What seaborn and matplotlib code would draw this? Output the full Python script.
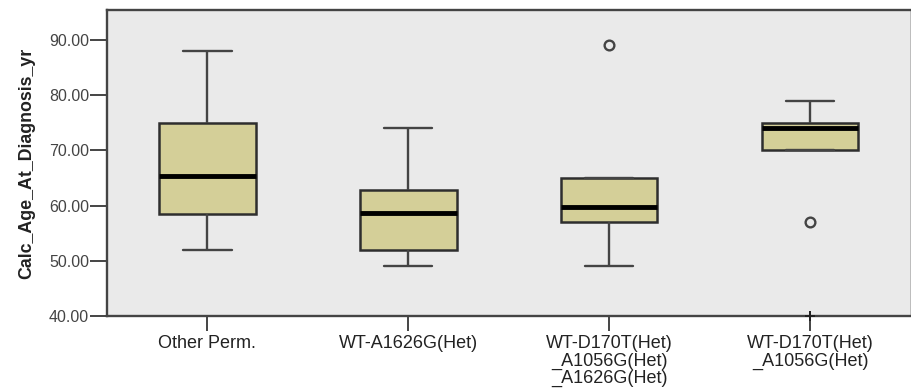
import numpy as np
import pandas as pd
import matplotlib
matplotlib.use("Agg")
import matplotlib.pyplot as plt
import matplotlib.ticker as mticker
import seaborn as sns

# Genotype groups shown along the x axis
groups = [
    "Other Perm.",
    "WT-A1626G(Het)",
    "WT-D170T(Het)\n_A1056G(Het)\n_A1626G(Het)",
    "WT-D170T(Het)\n_A1056G(Het)",
]

# Age at diagnosis (years) per group
age_other = [52, 57, 58.5, 62, 65.3, 70, 75, 80, 88]
age_a1626g = [49, 50, 52, 55, 58.6, 61, 62.8, 68, 74]
age_d170t_a1056g_a1626g = [49, 55, 57, 58, 59.7, 62, 65, 65, 89]
age_d170t_a1056g = [40, 57, 70, 72, 74, 74.5, 75, 77, 79]

y_ticks = [40, 50, 60, 70, 80, 90]

series = [age_other, age_a1626g, age_d170t_a1056g_a1626g, age_d170t_a1056g]
df = pd.DataFrame({
    "group": np.repeat(groups, [len(s) for s in series]),
    "age": np.concatenate(series),
})

sns.set_theme(style="white")
plt.rcParams["font.family"] = ["Liberation Sans", "DejaVu Sans"]

fig = plt.figure(figsize=(9.12, 3.9), dpi=100)
ax = fig.add_axes([0.1173, 0.1897, 0.8812, 0.7847])
ax.set_facecolor("#eaeaea")

edge = "#2e2e2e"
sns.boxplot(
    data=df, x="group", y="age", order=groups, ax=ax,
    color="#d4cf98", saturation=1, width=0.48, whis=1.5,
    showfliers=False, linewidth=1.7, linecolor=edge,
    boxprops=dict(edgecolor=edge, linewidth=1.8),
    whiskerprops=dict(color="#444444", linewidth=1.7),
    capprops=dict(color="#444444", linewidth=1.7),
    medianprops=dict(color="black", linewidth=3.5),
)

# Outliers (circles) and extreme values (asterisks), SPSS style
for i, vals in enumerate(series):
    v = np.asarray(vals, dtype=float)
    q1, q3 = np.percentile(v, [25, 75])
    iqr = q3 - q1
    far = (v < q1 - 3 * iqr) | (v > q3 + 3 * iqr)
    out = ((v < q1 - 1.5 * iqr) | (v > q3 + 1.5 * iqr)) & ~far
    ax.plot(np.full(out.sum(), i), v[out], linestyle="none", marker="o",
            markersize=7, markerfacecolor="none", markeredgecolor="#444444",
            markeredgewidth=1.7, zorder=5)
    ax.plot(np.full(far.sum(), i), v[far], linestyle="none", marker=(4, 2, 0),
            markersize=7, color="#222222", markeredgewidth=1.4,
            zorder=6, clip_on=False)

ax.set_xlim(-0.5, len(groups) - 0.5)
ax.set_ylim(40, 95.4)
ax.set_yticks(y_ticks)
ax.yaxis.set_major_formatter(mticker.FormatStrFormatter("%.2f"))

ax.set_xlabel("")
ax.set_ylabel("Calc_Age_At_Diagnosis_yr", fontsize=12.8, fontweight="bold",
              color="#222222", labelpad=10)

for side in ["left", "bottom", "top"]:
    ax.spines[side].set_visible(True)
    ax.spines[side].set_color("#444444")
    ax.spines[side].set_linewidth(1.7)
ax.spines["right"].set_visible(True)
ax.spines["right"].set_color("#b5b5b5")
ax.spines["right"].set_linewidth(1.2)

ax.tick_params(axis="y", direction="out", length=12, width=1.4, color="#444444",
               labelsize=11.5, labelcolor="#444444", pad=1, left=True)
ax.tick_params(axis="x", direction="out", length=11, width=1.4, color="#444444",
               labelsize=13, labelcolor="#222222", pad=3, bottom=True)
for lab in ax.get_xticklabels():
    lab.set_linespacing(1.0)

fig.savefig("out.png", dpi=100, facecolor="white")
